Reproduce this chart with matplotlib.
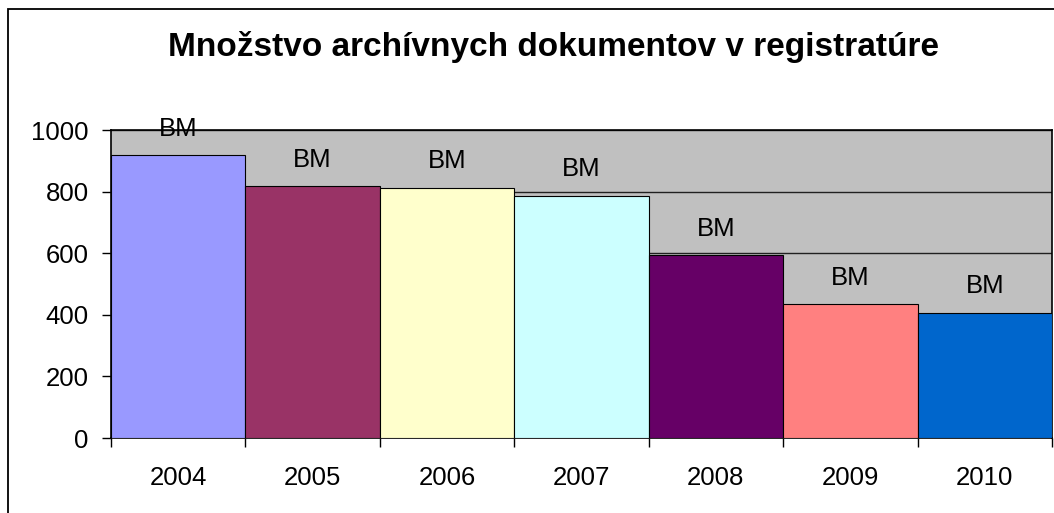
import matplotlib
matplotlib.use('Agg')
import matplotlib.pyplot as plt
from matplotlib.patches import Rectangle
from matplotlib.ticker import FixedLocator

# data
years = ['2004', '2005', '2006', '2007', '2008', '2009', '2010']
counts = [919, 818, 813, 787, 594, 435, 407]
bar_labels = ['BM'] * 7
bar_colors = ['#9999FF', '#993366', '#FFFFCC', '#CCFFFF', '#660066', '#FF8080', '#0066CC']

plt.rcParams['font.family'] = ['Liberation Sans', 'DejaVu Sans']

W, H = 1054, 513
fig = plt.figure(figsize=(W / 100, H / 100), dpi=100)
fig.patch.set_facecolor('white')

# chart-area frame (cut off on the right and bottom like the reference)
frame = Rectangle((8 / W, -0.5), 2.0, 1 - 9 / H + 0.5, transform=fig.transFigure,
                  fill=False, edgecolor='black', linewidth=1.3)
fig.add_artist(frame)

left, right, top, bottom = 111, 1052, 130, 438
ax = fig.add_axes([left / W, 1 - bottom / H, (right - left) / W, (bottom - top) / H])
ax.set_facecolor('#C0C0C0')

x = list(range(len(years)))
ax.bar(x, counts, width=1.0, color=bar_colors, edgecolor='black', linewidth=0.8, zorder=3)

for xi, v, lab in zip(x, counts, bar_labels):
    ax.annotate(lab, (xi, v), xytext=(0, 19), textcoords='offset points',
                ha='center', va='center', fontsize=18.5, zorder=4)

ax.set_xlim(-0.5, len(years) - 0.5)
ax.set_ylim(0, 1000)
ax.set_yticks([0, 200, 400, 600, 800, 1000])
ax.yaxis.grid(True, color='#202020', linewidth=1.0, zorder=1)
ax.set_axisbelow(True)

ax.set_xticks(x)
ax.set_xticklabels(years)
ax.xaxis.set_minor_locator(FixedLocator([i - 0.5 for i in range(len(years) + 1)]))
ax.tick_params(axis='x', which='major', length=0, pad=20, labelsize=18.5)
ax.tick_params(axis='x', which='minor', length=6.5, width=1, direction='out')
ax.tick_params(axis='y', length=6.5, width=1, direction='out', pad=9.5, labelsize=18.5)

for s in ax.spines.values():
    s.set_color('black')
    s.set_linewidth(1.2)

fig.text(554 / W, 1 - 47 / H, 'Množstvo archívnych dokumentov v registratúre',
         ha='center', va='center', fontsize=24, fontweight='bold')

fig.savefig('out.png', dpi=100)
